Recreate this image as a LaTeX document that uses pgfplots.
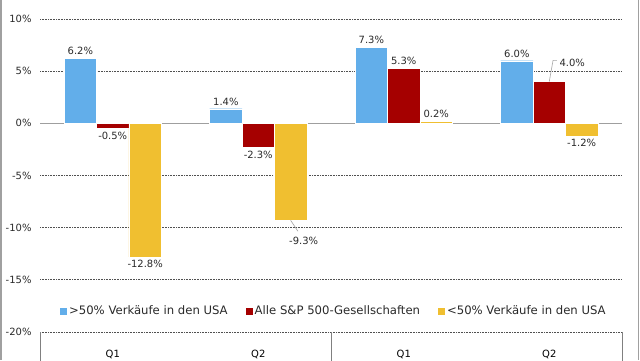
\documentclass[border=0pt]{standalone}
\usepackage{fontspec}
\setmainfont{DejaVu Sans}
\usepackage{pgfplots}
\pgfplotsset{compat=1.18}
\definecolor{cblue}{HTML}{62AEEA}
\definecolor{cred}{HTML}{A50000}
\definecolor{cyel}{HTML}{F0BF30}
\definecolor{gridc}{HTML}{505050}
\definecolor{framec}{HTML}{A0A0A0}
\definecolor{textc}{HTML}{2A2A2A}
\begin{document}
\begin{tikzpicture}[x=1bp,y=1bp]
\useasboundingbox (0,0) rectangle (640,360);
\fill[white] (0,0) rectangle (640,360);
\draw[framec, line width=1.2bp] (1,0) -- (1,360);
\draw[framec, line width=1.2bp] (638.5,0) -- (638.5,360);
\begin{axis}[
  at={(40bp,28bp)}, anchor=south west,
  scale only axis, width=582bp, height=313bp,
  xmin=-0.5, xmax=3.5, ymin=-20, ymax=10,
  clip=false,
  axis line style={draw=none},
  tick style={draw=none},
  ytick={-20,-15,-10,-5,5,10},
  yticklabel={\pgfmathprintnumber{\tick}\%},
  extra y ticks={0},
  extra y tick labels={0\%},
  extra y tick style={grid style={solid, draw=gray!75, line width=1.3bp, dash pattern=}},
  ymajorgrids,
  grid style={gridc, line width=0.7bp, dash pattern=on 0.8bp off 0.8bp},
  /pgf/number format/assume math mode=true,
  yticklabel style={font=\fontsize{10}{12}\selectfont, text=textc, xshift=-5bp},
  xtick={0,1,2,3}, xticklabels={Q1,Q2,Q1,Q2},
  xticklabel style={font=\fontsize{10}{12}\selectfont, text=black, anchor=center, yshift=-18bp},
  ybar=0pt, bar width=32.4bp,
  nodes near coords={\pgfmathprintnumber[fixed, fixed zerofill, precision=1]{\pgfplotspointmeta}\%},
  nodes near coords align={vertical},
  every node near coord/.append style={font=\fontsize{10}{12}\selectfont, text=textc, xshift=\dx bp, yshift=\dy bp},
  visualization depends on={value \thisrow{dx} \as \dx},
  visualization depends on={value \thisrow{dy} \as \dy},
  legend columns=3,
  legend cell align=left,
  legend style={at={(0.505,0.0667)}, anchor=center, draw=none, fill=none,
    font=\fontsize{11.7}{13}\selectfont, text=textc,
    /tikz/every even column/.append style={column sep=16bp}},
  legend image code/.code={\fill[#1,draw=none] (0bp,-3.5bp) rectangle (7bp,3.5bp);},
]
\addplot[fill=cblue, draw=white, line width=0.4bp] table[x=x,y=y] {
x y dx dy
0 6.2 0 0
1 1.4 0 0
2 7.3 0 0
3 6.0 0 0
};
\addlegendentry{>50\% Verkäufe in den USA}
\addplot[fill=cred, draw=white, line width=0.4bp] table[x=x,y=y] {
x y dx dy
0 -0.5 0 0
1 -2.3 0 0
2 5.3 0 0
3 4.0 23 11.5
};
\addlegendentry{Alle S\&P 500-Gesellschaften}
\addplot[fill=cyel, draw=white, line width=0.4bp] table[x=x,y=y] {
x y dx dy
0 -12.8 0 0
1 -9.3 13 -13
2 0.2 0 0
3 -1.2 0 0
};
\addlegendentry{<50\% Verkäufe in den USA}
\draw[gray!70, line width=0.6bp] (axis cs:1.2227,-9.3) -- (axis cs:1.273,-10.35);
\draw[gray!70, line width=0.6bp] (axis cs:3,4.0) -- (axis cs:3.026,6.04) -- (axis cs:3.053,6.04);
\draw[gray, line width=0.8bp] (axis cs:-0.5,-20) -- (axis cs:-0.5,-24);
\draw[gray, line width=0.8bp] (axis cs:1.5,-20) -- (axis cs:1.5,-24);
\draw[gray, line width=0.8bp] (axis cs:3.5,-20) -- (axis cs:3.5,-24);
\end{axis}
\end{tikzpicture}
\end{document}
